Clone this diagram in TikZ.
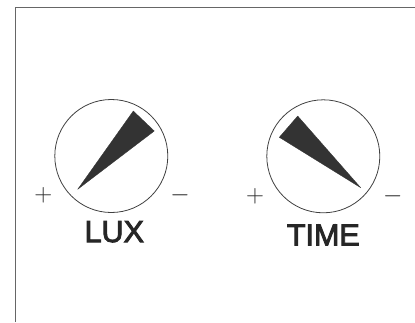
\documentclass[tikz,border=0pt]{standalone}
\usepackage{fontspec}
\newfontfamily\labelfont[FakeBold=3]{Liberation Sans}
\begin{document}
\begin{tikzpicture}[x=1pt,y=-1pt,
  dial/.style={circle,draw=black!75,line width=0.8pt,minimum size=113pt,inner sep=0pt},
  needle/.style={fill=black!80,draw=black!80,line width=0.3pt,line join=round},
  sign/.style={inner sep=0pt,font=\fontsize{30}{30}\selectfont,text=black!85},
  caption/.style={inner sep=0pt,font=\labelfont\fontsize{30.5}{30}\selectfont,text=black!85}]
\useasboundingbox (0,0) rectangle (415,322);
\draw[black!60,line width=0.8pt] (15.5,322) -- (15.5,7) -- (415,7);
% LUX dial
\node[dial] (lux) at (111.3,156) {};
\path[needle] (77.7,189.3) -- (133.3,111) -- (154.3,131) -- cycle;
\node[sign] (luxplus) at (43.3,195) {$+$};
\node[sign] (luxminus) at (180,195) {$-$};
\node[caption] (luxlabel) at (114.3,231.7) {LUX};
% TIME dial
\node[dial] (time) at (323.3,156.3) {};
\path[needle] (360.7,187.7) -- (297.7,116) -- (279.3,137.3) -- cycle;
\node[sign] (timeplus) at (255,196) {$+$};
\node[sign] (timeminus) at (392.7,196) {$-$};
\node[caption] (timelabel) at (323.3,235) {TIME};
\end{tikzpicture}
\end{document}
